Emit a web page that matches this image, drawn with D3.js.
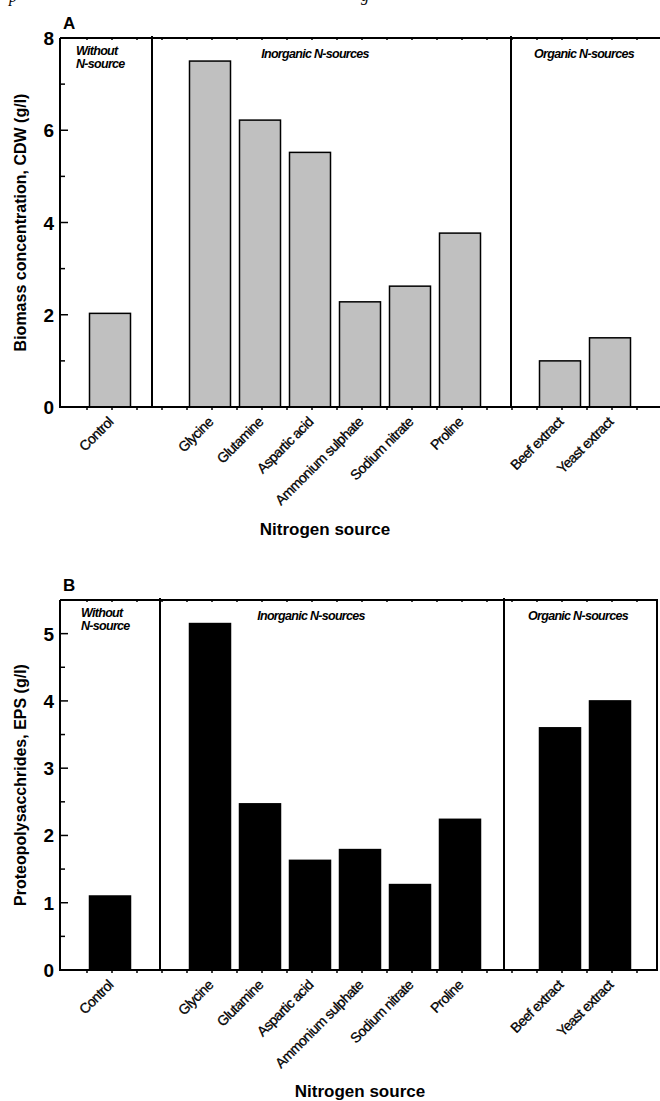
<!DOCTYPE html>
<html lang='en'>
<head>
  <meta charset="utf-8" />
  <title>Nitrogen source</title>
  <script src="https://d3js.org/d3.v7.min.js"></script>
  <style>
    body { margin: 0; background: #fff; }
    text { font-family: "Liberation Sans", Arial, sans-serif; fill: #000; }
  </style>
</head>
<body>
<script>
// data
var categories = ["Control", "Glycine", "Glutamine", "Aspartic acid", "Ammonium sulphate",
                  "Sodium nitrate", "Proline", "Beef extract", "Yeast extract"];
var slots = [0, 2, 3, 4, 5, 6, 7, 9, 10];
var biomass = [2.03, 7.5, 6.22, 5.52, 2.28, 2.62, 3.77, 1.0, 1.5];
var eps = [1.1, 5.15, 2.47, 1.63, 1.79, 1.27, 2.24, 3.6, 4.0];
var groupNames = ["Without", "N-source", "Inorganic N-sources", "Organic N-sources"];
var yTicksA = [0, 2, 4, 6, 8];
var yTicksB = [0, 1, 2, 3, 4, 5];

var w = 660, h = 1101;
var svg = d3.select("body").append("svg")
  .attr("width", w).attr("height", h);

// bits of the caption cut off at the top of the page
svg.append("text").attr("x", 9).attr("y", 2)
  .style("font-family", "Liberation Serif").style("font-style", "italic")
  .style("font-size", "16px").text("p");
svg.append("text").attr("x", 361).attr("y", 1)
  .style("font-family", "Liberation Serif").style("font-style", "italic")
  .style("font-size", "16px").text("g");

function drawPanel(o) {
  var g = svg.append("g");
  var x = d3.scaleLinear().domain([-1, 11]).range([60, 660]);
  var y = d3.scaleLinear().domain([0, o.yMax]).range([o.bottom, o.top]);
  var bw = 41;

  // bars
  g.selectAll("rect.bar")
    .data(o.values)
    .enter()
    .append("rect")
    .attr("class", "bar")
    .attr("x", function(d, i){ return x(slots[i]) - bw/2; })
    .attr("y", function(d){ return y(d); })
    .attr("width", bw)
    .attr("height", function(d){ return y(0) - y(d); })
    .style("fill", o.fill)
    .style("stroke", "#000")
    .style("stroke-width", 1.5);

  // x ticks, top and bottom
  var xt = d3.range(-0.5, o.xEnd, 0.5);
  g.selectAll("line.xb").data(xt).enter().append("line")
    .attr("x1", function(d){ return x(d) + 2; }).attr("x2", function(d){ return x(d) + 2; })
    .attr("y1", o.bottom).attr("y2", o.bottom + 3)
    .style("stroke", "#000").style("stroke-width", 1.5);
  g.selectAll("line.xt").data(xt).enter().append("line")
    .attr("x1", function(d){ return x(d) + 2; }).attr("x2", function(d){ return x(d) + 2; })
    .attr("y1", o.top - 1).attr("y2", o.top + 2)
    .style("stroke", "#000").style("stroke-width", 1.5);

  // y ticks (inward)
  var minor = d3.range(0, o.yMax + 0.001, o.yStep / 2);
  g.selectAll("line.yt").data(minor).enter().append("line")
    .attr("x1", x(-1)).attr("y1", function(d){ return y(d); })
    .attr("x2", function(d, i){ return x(-1) + (i % 2 == 0 ? 8 : 5); })
    .attr("y2", function(d){ return y(d); })
    .style("stroke", "#000").style("stroke-width", 1.5);
  g.selectAll("text.yl").data(o.yTicks).enter().append("text")
    .attr("x", 54).attr("y", function(d){ return y(d) + 7; })
    .attr("text-anchor", "end")
    .style("font-size", "19px").style("font-weight", "bold")
    .text(function(d){ return d; });

  // frame and group dividers
  g.append("path")
    .attr("d", "M" + x(-1) + "," + o.top + "V" + o.bottom + "H" + x(o.xEnd) +
      (o.rightBorder ? "V" + o.top : "M" + x(o.xEnd) + "," + o.top) + "H" + x(-1))
    .style("fill", "none").style("stroke", "#000").style("stroke-width", 2);
  g.selectAll("line.div").data(o.dividers).enter().append("line")
    .attr("x1", function(d){ return x(d); }).attr("x2", function(d){ return x(d); })
    .attr("y1", o.top - 2).attr("y2", o.bottom)
    .style("stroke", "#000").style("stroke-width", 2);

  // group labels
  var lab = function(t, px, py, anchor) {
    g.append("text").attr("x", px).attr("y", py)
      .attr("text-anchor", anchor)
      .style("font-size", "12.5px").style("font-weight", "bold").style("font-style", "italic")
      .style("letter-spacing", "-0.7px")
      .text(t);
  };
  lab(groupNames[0], o.lab0x, o.top + 17, "start");
  lab(groupNames[1], o.lab0x, o.top + 30, "start");
  lab(groupNames[2], o.lab1x, o.top + 20, "middle");
  lab(groupNames[3], o.lab2x, o.top + 20, "middle");

  // category labels
  g.selectAll("text.cat").data(categories).enter().append("text")
    .attr("text-anchor", "end")
    .attr("transform", function(d, i){
      return "translate(" + (x(slots[i]) + 4) + "," + (o.bottom + 16) + ") rotate(-45)";
    })
    .style("font-size", "14px").style("letter-spacing", "-0.6px")
    .style("stroke", "#000").style("stroke-width", 0.3)
    .text(function(d){ return d; });

  // titles
  g.append("text").attr("x", 63).attr("y", o.top - 9)
    .style("font-size", "17px").style("font-weight", "bold").text(o.letter);
  g.append("text").attr("x", o.xTitleX).attr("y", o.xTitleY)
    .attr("text-anchor", "middle")
    .style("font-size", "17px").style("font-weight", "bold")
    .text("Nitrogen source");
  g.append("text")
    .attr("transform", "translate(26," + ((o.top + o.bottom) / 2) + ") rotate(-90)")
    .attr("text-anchor", "middle")
    .style("font-size", "16px").style("font-weight", "bold")
    .text(o.yTitle);
}

drawPanel({
  letter: "A", values: biomass, fill: "#c0c0c0",
  top: 38, bottom: 407, yMax: 8, yStep: 2, yTicks: yTicksA,
  xEnd: 11.2, rightBorder: false, dividers: [0.84, 8.02],
  lab0x: 76, lab1x: 315, lab2x: 584,
  xTitleX: 325, xTitleY: 535,
  yTitle: "Biomass concentration, CDW (g/l)"
});

drawPanel({
  letter: "B", values: eps, fill: "#000",
  top: 600, bottom: 970, yMax: 5.5, yStep: 1, yTicks: yTicksB,
  xEnd: 10.94, rightBorder: true, dividers: [1.0, 7.88],
  lab0x: 81, lab1x: 311, lab2x: 578,
  xTitleX: 360, xTitleY: 1097,
  yTitle: "Proteopolysacchrides, EPS (g/l)"
});
</script>
</body>
</html>
